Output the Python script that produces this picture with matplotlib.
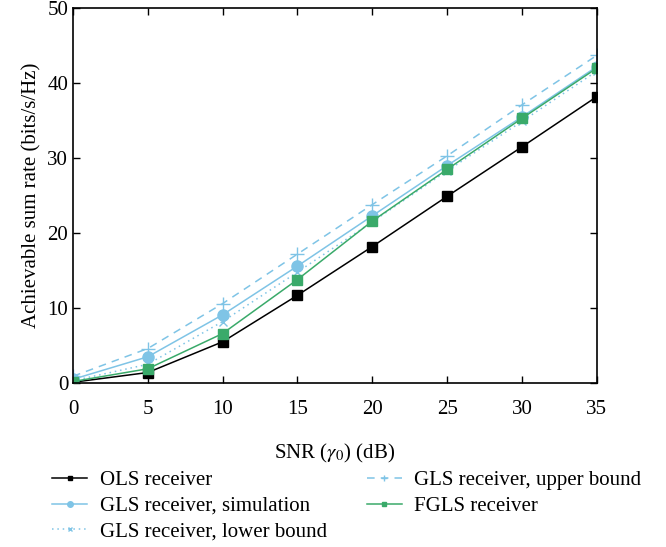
import matplotlib
matplotlib.use("Agg")
from matplotlib import pyplot as plt

plt.rcParams['font.family'] = ['Liberation Serif', 'DejaVu Serif']
plt.rcParams['mathtext.fontset'] = 'stix'

snr = [0, 5, 10, 15, 20, 25, 30, 35]
ols = [0.1, 1.4, 5.5, 11.7, 18.2, 24.9, 31.5, 38.2]
gls_sim = [0.5, 3.5, 9.1, 15.6, 22.3, 29.0, 35.5, 42.2]
gls_lower = [0.3, 2.5, 8.2, 14.8, 21.5, 28.3, 34.9, 41.6]
gls_upper = [0.9, 4.6, 10.6, 17.2, 23.8, 30.3, 37.1, 43.7]
fgls = [0.2, 1.9, 6.6, 13.8, 21.6, 28.5, 35.3, 42.0]

blue = '#7fc4e6'
green = '#3aaa6a'

fig = plt.figure(figsize=(6.66, 5.47), dpi=100)
ax = fig.add_axes([0.1096, 0.2998, 0.7864, 0.6852])

ax.plot(snr, ols, color='black', lw=1.1, marker='s', ms=7, label='OLS receiver')
ax.plot(snr, gls_sim, color=blue, lw=1.1, marker='o', ms=8, label='GLS receiver, simulation')
ax.plot(snr, gls_lower, color=blue, lw=1.1, ls=(0, (1, 2.5)), marker='x', ms=6, label='GLS receiver, lower bound')
ax.plot(snr, gls_upper, color=blue, lw=1.1, ls=(0, (5, 4)), marker='+', ms=10, label='GLS receiver, upper bound')
ax.plot(snr, fgls, color=green, lw=1.1, marker='s', ms=7, label='FGLS receiver')

ax.set_xlim(0, 35)
ax.set_ylim(0, 50)
ax.set_xticks(range(0, 36, 5))
ax.set_yticks(range(0, 51, 10))
ax.tick_params(direction='in', top=True, right=True, labelsize=15, length=5, width=1)
ax.tick_params(axis='x', pad=12)
for s in ax.spines.values():
    s.set_linewidth(1.2)
ax.set_xlabel(r'SNR ($\gamma_0$) (dB)', fontsize=15, labelpad=17)
ax.set_ylabel('Achievable sum rate (bits/s/Hz)', fontsize=15)

handles, labels = ax.get_legend_handles_labels()
leg = fig.legend(handles, labels, ncol=2, loc='upper left', bbox_to_anchor=(0.078, 0.14),
                 frameon=False, fontsize=15, markerscale=0.5, handlelength=1.7,
                 handletextpad=0.6, columnspacing=1.9, labelspacing=0.3,
                 borderpad=0, borderaxespad=0)

fig.savefig('out.png', dpi=100)
